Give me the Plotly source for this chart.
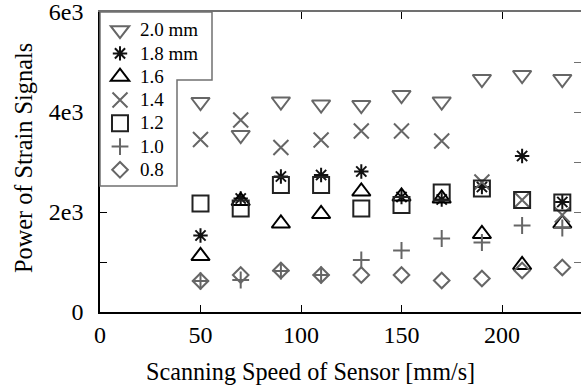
import plotly.graph_objects as go

speeds = [50, 70, 90, 110, 130, 150, 170, 190, 210, 230]

series_names = ["2.0 mm", "1.8 mm", "1.6", "1.4", "1.2", "1.0", "0.8"]
d20 = [4200, 3540, 4210, 4150, 4140, 4340, 4210, 4660, 4740, 4660]
d18 = [1530, 2270, 2710, 2740, 2810, 2300, 2250, 2500, 3120, 2200]
d16 = [1120, 2220, 1770, 1960, 2410, 2310, 2270, 1560, 940, 1770]
d14 = [3450, 3840, 3290, 3440, 3620, 3620, 3420, 2600, 2240, 1940]
d12 = [2170, 2070, 2540, 2540, 2070, 2140, 2390, 2470, 2240, 2190]
d10 = [620, 640, 820, 740, 1040, 1230, 1470, 1390, 1730, 1680]
d08 = [620, 740, 830, 740, 740, 740, 630, 670, 830, 890]

x_ticks = [0, 50, 100, 150, 200]
y_ticks = [0, 1000, 2000, 3000, 4000, 5000, 6000]
y_ticktext = ["0", "", "2e3", "", "4e3", "", "6e3"]
x_title = "Scanning Speed of Sensor [mm/s]"
y_title = "Power of Strain Signals"

GRAY = "#666666"
styles = [
    dict(symbol="triangle-down-open", size=16, color=GRAY),
    dict(symbol="asterisk-open", size=12, color="#111111"),
    dict(symbol="triangle-up-open", size=16, color="#000000"),
    dict(symbol="x-thin-open", size=15, color=GRAY),
    dict(symbol="square-open", size=16, color="#222222"),
    dict(symbol="cross-thin-open", size=12, color=GRAY),
    dict(symbol="diamond-open", size=12, color=GRAY),
]
data = [d20, d18, d16, d14, d12, d10, d08]

FONT = "Liberation Serif, DejaVu Serif, serif"

fig = go.Figure()
for name, vals, st in zip(series_names, data, styles):
    fig.add_trace(go.Scatter(
        x=speeds, y=vals, mode="markers",
        name='<span style="font-size:19px">' + name + "</span>",
        marker=dict(symbol=st["symbol"], size=st["size"], color=st["color"],
                    line=dict(color=st["color"], width=2)),
    ))

# helper trace for the overlay axes (top / right ticks)
fig.add_trace(go.Scatter(x=[None], y=[None], xaxis="x2", yaxis="y2",
                         showlegend=False, hoverinfo="skip"))

XR = [0, 239.3]
YR = [0, 6000]

# pixel -> paper helpers (plot area: x 100..581, y 12..312)
def px(xp):
    return (xp - 100) / 481.0

def py(yp):
    return (312 - yp) / 300.0

path = "M {a},{b} L {c},{b} L {c},{d} L {e},{d} L {e},{f} L {a},{f} Z".format(
    a=px(100), b=py(12), c=px(212), d=py(80), e=px(177), f=py(186))

axfont = dict(family=FONT, size=24, color="black")

fig.update_layout(
    width=581, height=390,
    margin=dict(l=100, r=0, t=12, b=78, autoexpand=False),
    paper_bgcolor="white", plot_bgcolor="white",
    font=axfont,
    showlegend=True,
    legend=dict(x=0.0, y=0.995, xanchor="left", yanchor="top",
                bgcolor="rgba(0,0,0,0)", borderwidth=0,
                font=dict(family=FONT, size=15.6, color="black"),
                itemwidth=30, tracegroupgap=0),
    xaxis=dict(range=XR, tickvals=x_ticks, ticks="inside", ticklen=7,
               tickcolor="black", showline=True, linecolor="black", linewidth=1.5,
               showgrid=False, zeroline=False, mirror=False, automargin=False,
               tickfont=axfont, ticklabeloverflow="allow"),
    yaxis=dict(range=YR, tickvals=y_ticks, ticktext=y_ticktext, ticks="inside",
               ticklen=7, tickcolor="black", showline=True, linecolor="black",
               linewidth=1.5, showgrid=False, zeroline=False, automargin=False,
               tickfont=axfont, ticklabelstandoff=10, ticklabeloverflow="allow"),
    xaxis2=dict(range=XR, overlaying="x", side="top", anchor="y", tickvals=x_ticks,
                ticks="inside", ticklen=7, tickcolor="black", showticklabels=False,
                showline=True, linecolor="#707070", linewidth=1.5, automargin=False,
                showgrid=False, zeroline=False),
    yaxis2=dict(range=YR, overlaying="y", side="right", anchor="x", tickvals=y_ticks,
                ticks="inside", ticklen=7, tickcolor="#707070", showticklabels=False,
                showline=False, showgrid=False, zeroline=False, automargin=False),
    shapes=[dict(type="path", xref="paper", yref="paper", path=path,
                 fillcolor="white", line=dict(color="#707070", width=1.5),
                 layer="above")],
    annotations=[
        dict(text=x_title, xref="paper", yref="paper", x=px(310), y=py(371),
             xanchor="center", yanchor="middle", showarrow=False,
             font=dict(family=FONT, size=24.2, color="black")),
        dict(text=y_title, xref="paper", yref="paper", x=px(23), y=py(158),
             xanchor="center", yanchor="middle", showarrow=False, textangle=-90,
             font=dict(family=FONT, size=24.3, color="black")),
    ],
)

fig.write_html("out.html", config={"displayModeBar": False},
               post_script="document.body.style.margin='0px';document.body.style.padding='0px';")
